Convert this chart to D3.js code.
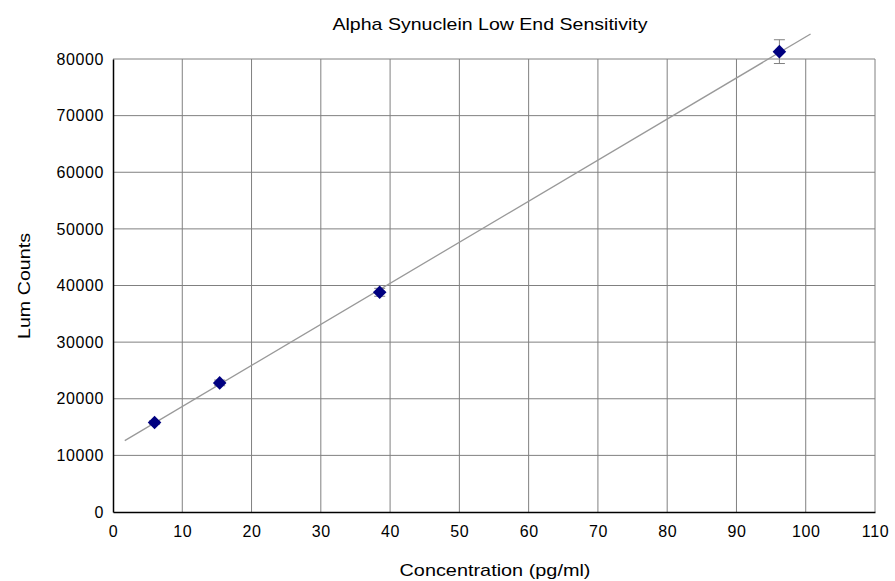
<!DOCTYPE html>
<html>
<head>
<meta charset="utf-8">
<script src="https://cdn.jsdelivr.net/npm/d3@7"></script>
<style>
  body { margin: 0; background: #fff; }
  svg { font-family: "Liberation Sans", Arial, sans-serif; }
</style>
</head>
<body>
<div id="chart"></div>
<script>
var concentration = [6, 15.4, 38.5, 96.2];
var lumCounts = [15800, 22800, 38800, 81300];
var errors = [300, 500, 700, 2100];
var xTicks = [0, 10, 20, 30, 40, 50, 60, 70, 80, 90, 100, 110];
var yTicks = [0, 10000, 20000, 30000, 40000, 50000, 60000, 70000, 80000];
var trendRange = [1.7, 100.7];

var width = 895, height = 581;
var margin = { top: 59, right: 20, bottom: 69, left: 113 };

var svg = d3.select('#chart').append('svg')
    .attr('width', width)
    .attr('height', height);

var x = d3.scaleLinear().domain([0, 110]).range([margin.left, width - margin.right]);
var y = d3.scaleLinear().domain([0, 80000]).range([height - margin.bottom, margin.top]);

// gridlines
svg.append('g').selectAll('line')
    .data(xTicks.slice(1))
    .join('line')
    .attr('x1', d => x(d)).attr('x2', d => x(d))
    .attr('y1', y(0)).attr('y2', y(80000))
    .attr('stroke', '#808080');

svg.append('g').selectAll('line')
    .data(yTicks.slice(1))
    .join('line')
    .attr('x1', x(0)).attr('x2', x(110))
    .attr('y1', d => y(d)).attr('y2', d => y(d))
    .attr('stroke', '#808080');

// axes
svg.append('g')
    .attr('transform', 'translate(0,' + y(0) + ')')
    .call(d3.axisBottom(x).tickValues(xTicks).tickSize(0).tickPadding(14));
svg.append('g')
    .attr('transform', 'translate(' + x(0) + ',0)')
    .call(d3.axisLeft(y).tickValues(yTicks).tickSize(0).tickPadding(9).tickFormat(d3.format('d')));

svg.selectAll('.domain').attr('stroke', '#000').attr('stroke-width', 1.5);
svg.selectAll('.tick text')
    .style('font-family', '"Liberation Sans", Arial, sans-serif')
    .style('font-size', '16px')
    .style('letter-spacing', '0.6px')
    .attr('fill', '#000');

// linear trend line
var mx = d3.mean(concentration), my = d3.mean(lumCounts);
var sxy = d3.sum(concentration, (c, i) => (c - mx) * (lumCounts[i] - my));
var sxx = d3.sum(concentration, c => (c - mx) * (c - mx));
var slope = sxy / sxx;
var intercept = my - slope * mx;

svg.append('line')
    .attr('x1', x(trendRange[0])).attr('y1', y(intercept + slope * trendRange[0]))
    .attr('x2', x(trendRange[1])).attr('y2', y(intercept + slope * trendRange[1]))
    .attr('stroke', '#999')
    .attr('stroke-width', 1.3);

// error bars
var eb = svg.append('g').attr('stroke', '#808080');
concentration.forEach(function (c, i) {
    var top = y(lumCounts[i] + errors[i]), bot = y(lumCounts[i] - errors[i]);
    eb.append('line').attr('x1', x(c)).attr('x2', x(c)).attr('y1', top).attr('y2', bot);
    eb.append('line').attr('x1', x(c) - 5.5).attr('x2', x(c) + 5.5).attr('y1', top).attr('y2', top);
    eb.append('line').attr('x1', x(c) - 5.5).attr('x2', x(c) + 5.5).attr('y1', bot).attr('y2', bot);
});

// markers
svg.append('g').selectAll('path')
    .data(concentration)
    .join('path')
    .attr('d', d3.symbol().type(d3.symbolSquare).size(92))
    .attr('transform', (d, i) => 'translate(' + x(d) + ',' + y(lumCounts[i]) + ') rotate(45)')
    .attr('fill', '#000080');

// titles
svg.append('text')
    .attr('x', 490).attr('y', 30)
    .attr('text-anchor', 'middle')
    .style('font-size', '17px')
    .attr('textLength', 315)
    .attr('lengthAdjust', 'spacingAndGlyphs')
    .text('Alpha Synuclein Low End Sensitivity');

svg.append('text')
    .attr('x', 495).attr('y', 576)
    .attr('text-anchor', 'middle')
    .style('font-size', '17px')
    .attr('textLength', 191)
    .attr('lengthAdjust', 'spacingAndGlyphs')
    .text('Concentration (pg/ml)');

svg.append('text')
    .attr('transform', 'translate(30,' + 286 + ') rotate(-90)')
    .attr('text-anchor', 'middle')
    .style('font-size', '17px')
    .attr('textLength', 106)
    .attr('lengthAdjust', 'spacingAndGlyphs')
    .text('Lum Counts');
</script>
</body>
</html>
